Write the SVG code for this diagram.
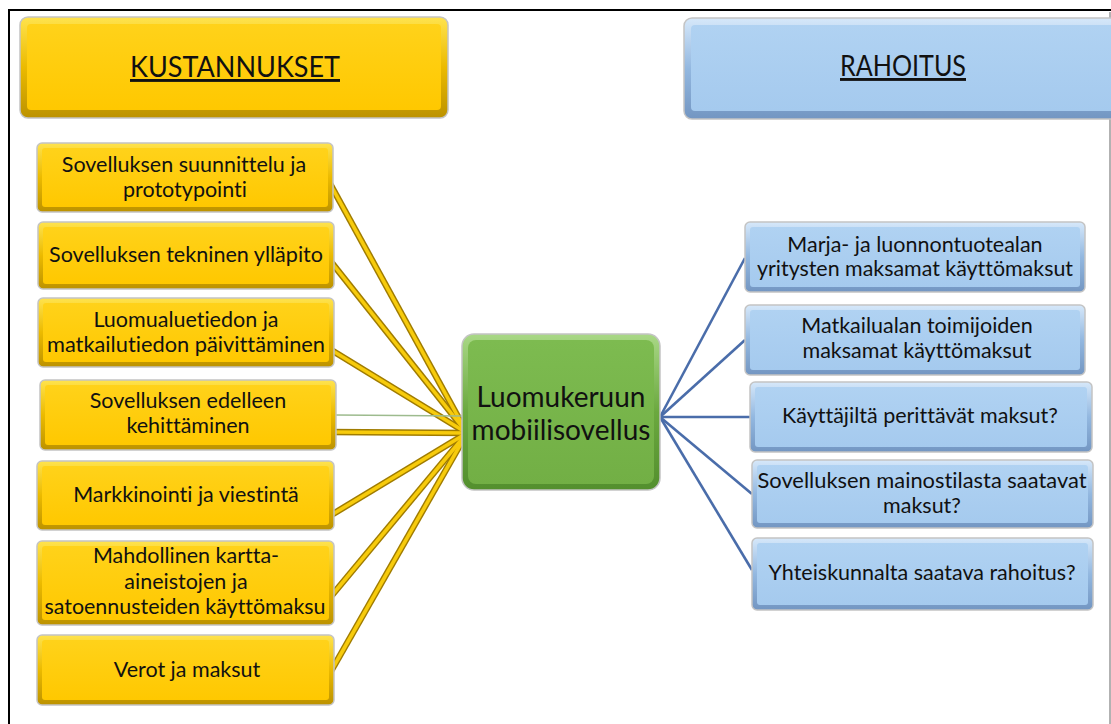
<svg xmlns="http://www.w3.org/2000/svg" width="1111" height="724" viewBox="0 0 1111 724">
<defs>
<linearGradient id="gY" x1="0" y1="0" x2="0" y2="1"><stop offset="0" stop-color="#FFE34D"/><stop offset="0.5" stop-color="#EBBA00"/><stop offset="1" stop-color="#BC9200"/></linearGradient>
<linearGradient id="gYf" x1="0" y1="0" x2="0" y2="1"><stop offset="0" stop-color="#FFD21A"/><stop offset="1" stop-color="#FFC800"/></linearGradient>
<linearGradient id="gB" x1="0" y1="0" x2="0" y2="1"><stop offset="0" stop-color="#D6E8FA"/><stop offset="0.5" stop-color="#93B8E0"/><stop offset="1" stop-color="#7396C2"/></linearGradient>
<linearGradient id="gBf" x1="0" y1="0" x2="0" y2="1"><stop offset="0" stop-color="#B0D2F2"/><stop offset="1" stop-color="#A5CAEE"/></linearGradient>
<linearGradient id="gG" x1="0" y1="0" x2="0" y2="1"><stop offset="0" stop-color="#A9D886"/><stop offset="0.5" stop-color="#6BA83F"/><stop offset="1" stop-color="#538F2E"/></linearGradient>
<linearGradient id="gGf" x1="0" y1="0" x2="0" y2="1"><stop offset="0" stop-color="#7DBB50"/><stop offset="1" stop-color="#72AF45"/></linearGradient>
</defs>
<style>
.oy{fill:url(#gY);stroke:#C4C4C4;stroke-width:1.5}
.fy{fill:url(#gYf)}
.ob{fill:url(#gB);stroke:#C4C4C4;stroke-width:1.5}
.fb{fill:url(#gBf)}
.og{fill:url(#gG);stroke:#C4C4C4;stroke-width:1.5}
.fg{fill:url(#gGf)}
text{font-family:Lato,"Open Sans","Liberation Sans",sans-serif;fill:#111;text-anchor:middle;font-variant-ligatures:none}
.t{font-size:21.5px}
.h{font-size:29px;text-decoration:underline}
.c{font-size:28px}
.ly{stroke:#A07C00;stroke-width:6.5;fill:none}
.lyi{stroke:#F7CB0C;stroke-width:3.6;fill:none}
.lb{stroke:#4A6DAA;stroke-width:2.6;fill:none}
</style>
<rect x="0" y="0" width="1111" height="724" fill="#fff"/>
<line x1="8" y1="10" x2="1111" y2="10" stroke="#000" stroke-width="2"/>
<line x1="9" y1="10" x2="9" y2="724" stroke="#000" stroke-width="2"/>
<line x1="1110" y1="12" x2="1110" y2="724" stroke="#999" stroke-width="1.5"/>

<g id="connectors">
<line class="ly" x1="328" y1="180" x2="467" y2="433"/>
<line class="ly" x1="328" y1="258" x2="467" y2="433"/>
<line class="ly" x1="328" y1="348" x2="467" y2="433"/>
<line class="ly" x1="330" y1="432" x2="467" y2="433"/>
<line class="ly" x1="328" y1="517" x2="467" y2="433"/>
<line class="ly" x1="328" y1="600" x2="467" y2="433"/>
<line class="ly" x1="326" y1="680" x2="467" y2="433"/>
<line class="lyi" x1="328" y1="180" x2="467" y2="433"/>
<line class="lyi" x1="328" y1="258" x2="467" y2="433"/>
<line class="lyi" x1="328" y1="348" x2="467" y2="433"/>
<line class="lyi" x1="330" y1="432" x2="467" y2="433"/>
<line class="lyi" x1="328" y1="517" x2="467" y2="433"/>
<line class="lyi" x1="328" y1="600" x2="467" y2="433"/>
<line class="lyi" x1="326" y1="680" x2="467" y2="433"/>
<line x1="336" y1="415" x2="462" y2="416" stroke="#9DBB8E" stroke-width="1.5"/>
<line class="lb" x1="660" y1="417" x2="745" y2="258"/>
<line class="lb" x1="660" y1="417" x2="745" y2="340"/>
<line class="lb" x1="660" y1="417" x2="750" y2="417"/>
<line class="lb" x1="660" y1="417" x2="752" y2="494"/>
<line class="lb" x1="660" y1="417" x2="752" y2="570"/>
</g>

<g id="kustannukset">
<rect class="oy" x="20" y="17" width="428" height="101" rx="8"/>
<rect class="fy" x="27" y="24" width="414" height="86" rx="4"/>
<text class="h" x="235" y="77" textLength="210" lengthAdjust="spacingAndGlyphs">KUSTANNUKSET</text>
</g>
<g id="rahoitus">
<rect class="ob" x="684" y="18" width="440" height="101" rx="8"/>
<rect class="fb" x="691" y="25" width="426" height="86" rx="4"/>
<text class="h" x="903" y="76" textLength="126" lengthAdjust="spacingAndGlyphs">RAHOITUS</text>
</g>

<g id="k1">
<rect class="oy" x="37" y="143" width="296" height="69" rx="5"/>
<rect class="fy" x="42" y="148" width="286" height="59" rx="3"/>
<text class="t" x="184" y="172">Sovelluksen suunnittelu ja</text>
<text class="t" x="185" y="197">prototypointi</text>
</g>
<g id="k2">
<rect class="oy" x="38" y="222" width="296" height="67" rx="5"/>
<rect class="fy" x="43" y="227" width="286" height="57" rx="3"/>
<text class="t" x="186" y="262" textLength="274" lengthAdjust="spacingAndGlyphs">Sovelluksen tekninen ylläpito</text>
</g>
<g id="k3">
<rect class="oy" x="38" y="298" width="296" height="69" rx="5"/>
<rect class="fy" x="43" y="303" width="286" height="59" rx="3"/>
<text class="t" x="186" y="327">Luomualuetiedon ja</text>
<text class="t" x="186" y="352" textLength="278" lengthAdjust="spacingAndGlyphs">matkailutiedon päivittäminen</text>
</g>
<g id="k4">
<rect class="oy" x="40" y="380" width="296" height="70" rx="5"/>
<rect class="fy" x="45" y="385" width="286" height="60" rx="3"/>
<text class="t" x="188" y="408">Sovelluksen edelleen</text>
<text class="t" x="188" y="433">kehittäminen</text>
</g>
<g id="k5">
<rect class="oy" x="37" y="461" width="297" height="69" rx="5"/>
<rect class="fy" x="42" y="466" width="287" height="59" rx="3"/>
<text class="t" x="186" y="502">Markkinointi ja viestintä</text>
</g>
<g id="k6">
<rect class="oy" x="37" y="541" width="297" height="84" rx="5"/>
<rect class="fy" x="42" y="546" width="287" height="74" rx="3"/>
<text class="t" x="186" y="563">Mahdollinen kartta-</text>
<text class="t" x="186" y="589">aineistojen ja</text>
<text class="t" x="185" y="614" textLength="281" lengthAdjust="spacingAndGlyphs">satoennusteiden käyttömaksu</text>
</g>
<g id="k7">
<rect class="oy" x="37" y="635" width="297" height="70" rx="5"/>
<rect class="fy" x="42" y="640" width="287" height="60" rx="3"/>
<text class="t" x="187" y="677">Verot ja maksut</text>
</g>

<g id="center">
<rect class="og" x="462" y="334" width="198" height="156" rx="12"/>
<rect class="fg" x="468" y="340" width="186" height="144" rx="8"/>
<text class="c" x="561" y="407">Luomukeruun</text>
<text class="c" x="561" y="440">mobiilisovellus</text>
</g>

<g id="r1">
<rect class="ob" x="745" y="222" width="340" height="70" rx="5"/>
<rect class="fb" x="750" y="227" width="330" height="60" rx="3"/>
<text class="t" x="915" y="252">Marja- ja luonnontuotealan</text>
<text class="t" x="915" y="276" textLength="316" lengthAdjust="spacingAndGlyphs">yritysten maksamat käyttömaksut</text>
</g>
<g id="r2">
<rect class="ob" x="745" y="305" width="340" height="70" rx="5"/>
<rect class="fb" x="750" y="310" width="330" height="60" rx="3"/>
<text class="t" x="917" y="333">Matkailualan toimijoiden</text>
<text class="t" x="917" y="358">maksamat käyttömaksut</text>
</g>
<g id="r3">
<rect class="ob" x="750" y="382" width="342" height="70" rx="5"/>
<rect class="fb" x="755" y="387" width="332" height="60" rx="3"/>
<text class="t" x="920" y="423">Käyttäjiltä perittävät maksut?</text>
</g>
<g id="r4">
<rect class="ob" x="752" y="460" width="341" height="68" rx="5"/>
<rect class="fb" x="757" y="465" width="331" height="58" rx="3"/>
<text class="t" x="922" y="488" textLength="329" lengthAdjust="spacingAndGlyphs">Sovelluksen mainostilasta saatavat</text>
<text class="t" x="922" y="513">maksut?</text>
</g>
<g id="r5">
<rect class="ob" x="752" y="538" width="341" height="72" rx="5"/>
<rect class="fb" x="757" y="543" width="331" height="62" rx="3"/>
<text class="t" x="922" y="580">Yhteiskunnalta saatava rahoitus?</text>
</g>
</svg>
